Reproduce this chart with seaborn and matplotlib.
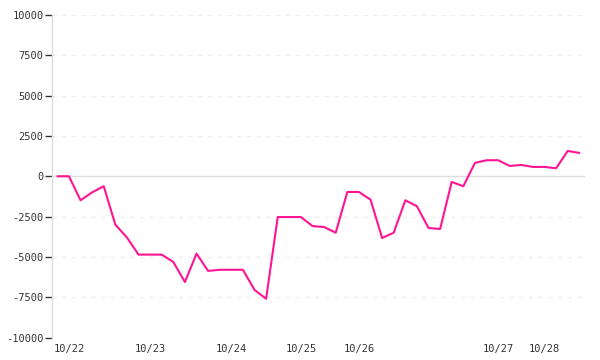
import matplotlib
matplotlib.use("Agg")
import matplotlib.pyplot as plt
import seaborn as sns
import pandas as pd
import numpy as np

# date label of each data point (one point per step)
point_dates = (['10/21'] + ['10/22'] * 7 + ['10/23'] * 7 + ['10/24'] * 6 +
               ['10/25'] * 5 + ['10/26'] * 12 + ['10/27'] * 4 + ['10/28'] * 4)
values = [0, 0, -1490, -1000, -620, -3000, -3800, -4860, -4860, -4860,
          -5320, -6560, -4800, -5870, -5800, -5800, -5800, -7050, -7600, -2530,
          -2530, -2530, -3090, -3150, -3500, -975, -975, -1450, -3830, -3500,
          -1490, -1860, -3210, -3270, -350, -620, 826, 994, 994, 640,
          700, 578, 578, 497, 1571, 1447]
y_ticks = [-10000, -7500, -5000, -2500, 0, 2500, 5000, 7500, 10000]

df = pd.DataFrame({'idx': np.arange(len(values)), 'value': values, 'date': point_dates})

sns.set_theme(style="white")
plt.rcParams['font.family'] = ['DejaVu Sans Mono', 'DejaVu Sans']

fig = plt.figure(figsize=(6, 3.6), dpi=100)
ax = fig.add_axes([52 / 600, 1 - 337.5 / 360, (585 - 52) / 600, (337.5 - 15) / 360])

sns.lineplot(data=df, x='idx', y='value', ax=ax, color='#ff1493', linewidth=1.5, zorder=3)

ax.set_ylim(-10000, 10000)
ax.set_xlim(-0.46, len(values) - 1 + 0.49)
ax.set_yticks(y_ticks)
ax.set_yticklabels([str(t) for t in y_ticks])

# x ticks at the first point of each date
first_idx = df.groupby('date', sort=False)['idx'].min()
first_idx = first_idx[first_idx.index != '10/21']
ax.set_xticks(first_idx.values)
ax.set_xticklabels(first_idx.index)

for t in y_ticks:
    if t == 0:
        ax.axhline(t, color='#dddddd', linewidth=1, zorder=1)
    else:
        ax.axhline(t, color='#eeeeee', linewidth=1, linestyle=(0, (3, 4)), zorder=1)

for s in ['top', 'right', 'bottom']:
    ax.spines[s].set_visible(False)
ax.spines['left'].set_color('#dddddd')
ax.spines['left'].set_linewidth(1)

ax.tick_params(axis='y', length=5, width=1, color='#333333', labelsize=7.5,
               labelcolor='#333333', pad=1, left=True)
ax.tick_params(axis='x', length=0, labelsize=7.5, labelcolor='#333333', pad=5)
ax.set_xlabel('')
ax.set_ylabel('')
ax.grid(False)

fig.savefig('out.png', dpi=100)
